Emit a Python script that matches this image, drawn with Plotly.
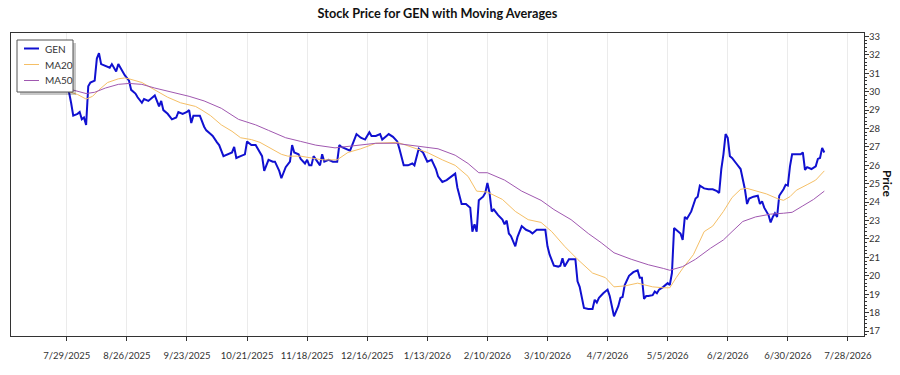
import plotly.graph_objects as go

# ---------------- data ----------------
gen_dates = [
    "2025-07-28", "2025-07-30", "2025-07-31",
    "2025-08-01", "2025-08-03", "2025-08-04", "2025-08-05", "2025-08-06", "2025-08-07", "2025-08-08",
    "2025-08-09", "2025-08-11", "2025-08-12", "2025-08-13", "2025-08-14", "2025-08-16", "2025-08-18",
    "2025-08-19", "2025-08-20", "2025-08-21", "2025-08-22", "2025-08-23", "2025-08-24", "2025-08-25",
    "2025-08-27", "2025-08-28", "2025-08-30", "2025-08-31",
    "2025-09-02", "2025-09-03", "2025-09-05", "2025-09-06", "2025-09-08", "2025-09-10", "2025-09-11",
    "2025-09-12", "2025-09-14", "2025-09-16", "2025-09-18", "2025-09-19", "2025-09-21", "2025-09-23",
    "2025-09-24", "2025-09-25", "2025-09-26", "2025-09-27", "2025-09-29",
    "2025-10-01", "2025-10-02", "2025-10-04", "2025-10-05", "2025-10-07", "2025-10-08", "2025-10-10",
    "2025-10-12", "2025-10-14", "2025-10-15", "2025-10-16", "2025-10-18", "2025-10-20", "2025-10-21",
    "2025-10-23", "2025-10-25", "2025-10-26", "2025-10-28", "2025-10-29", "2025-10-31",
    "2025-11-02", "2025-11-03", "2025-11-05", "2025-11-06", "2025-11-08", "2025-11-10", "2025-11-11",
    "2025-11-12", "2025-11-14", "2025-11-15", "2025-11-17", "2025-11-18", "2025-11-19", "2025-11-20",
    "2025-11-21", "2025-11-23", "2025-11-24", "2025-11-25", "2025-11-26", "2025-11-28", "2025-11-30",
    "2025-12-02", "2025-12-03", "2025-12-04", "2025-12-06", "2025-12-08", "2025-12-11", "2025-12-13",
    "2025-12-15", "2025-12-17", "2025-12-18", "2025-12-20", "2025-12-22", "2025-12-23", "2025-12-25",
    "2025-12-26", "2025-12-28", "2025-12-30", "2025-12-31",
    "2026-01-02", "2026-01-04", "2026-01-06", "2026-01-07", "2026-01-09", "2026-01-11", "2026-01-13",
    "2026-01-15", "2026-01-17", "2026-01-18", "2026-01-20", "2026-01-22", "2026-01-24", "2026-01-26",
    "2026-01-27", "2026-01-29", "2026-01-31",
    "2026-02-02", "2026-02-03", "2026-02-04", "2026-02-05", "2026-02-06", "2026-02-08", "2026-02-09",
    "2026-02-10", "2026-02-11", "2026-02-12", "2026-02-13", "2026-02-15", "2026-02-17", "2026-02-18",
    "2026-02-19", "2026-02-20", "2026-02-21", "2026-02-23", "2026-02-24", "2026-02-26", "2026-02-28",
    "2026-03-02", "2026-03-03", "2026-03-05", "2026-03-07", "2026-03-09", "2026-03-10", "2026-03-11",
    "2026-03-13", "2026-03-15", "2026-03-16", "2026-03-17", "2026-03-18", "2026-03-20", "2026-03-21",
    "2026-03-23", "2026-03-24", "2026-03-25", "2026-03-27", "2026-03-29", "2026-03-31",
    "2026-04-01", "2026-04-02", "2026-04-03", "2026-04-05", "2026-04-07", "2026-04-08", "2026-04-09",
    "2026-04-10", "2026-04-12", "2026-04-13", "2026-04-14", "2026-04-15", "2026-04-17", "2026-04-19",
    "2026-04-21", "2026-04-22", "2026-04-23", "2026-04-24", "2026-04-25", "2026-04-26", "2026-04-28",
    "2026-04-29", "2026-04-30",
    "2026-05-01", "2026-05-03", "2026-05-05", "2026-05-06", "2026-05-07", "2026-05-08", "2026-05-10",
    "2026-05-11", "2026-05-12", "2026-05-13", "2026-05-14", "2026-05-16", "2026-05-18", "2026-05-19",
    "2026-05-20", "2026-05-22", "2026-05-24", "2026-05-26", "2026-05-28", "2026-05-29", "2026-05-30",
    "2026-05-31",
    "2026-06-01", "2026-06-02", "2026-06-03", "2026-06-04", "2026-06-06", "2026-06-08", "2026-06-10",
    "2026-06-11", "2026-06-12", "2026-06-14", "2026-06-16", "2026-06-17", "2026-06-18", "2026-06-19",
    "2026-06-21", "2026-06-22", "2026-06-23", "2026-06-24", "2026-06-25", "2026-06-26", "2026-06-28",
    "2026-06-29", "2026-06-30",
    "2026-07-01", "2026-07-02", "2026-07-05", "2026-07-06", "2026-07-07", "2026-07-08", "2026-07-09",
    "2026-07-11", "2026-07-13", "2026-07-14", "2026-07-15", "2026-07-16", "2026-07-17",
]
gen_values = [
    30.3, 30.0, 29.4,
    28.7, 28.8, 28.9, 28.5, 28.6, 28.2, 30.3, 30.5, 30.6, 31.8, 32.1, 31.5, 31.4, 31.3,
    31.5, 31.3, 31.1, 31.5, 31.3, 31.1, 30.9, 30.6, 30.1, 29.9, 29.7,
    29.4, 29.6, 29.5, 29.6, 29.8, 29.2, 29.5, 29.0, 28.8, 28.5, 28.6, 28.9, 28.8, 28.9,
    29.0, 28.3, 28.7, 28.7, 28.7,
    28.1, 27.9, 27.7, 27.6, 27.25, 27.1, 26.5, 26.6, 26.7, 27.0, 26.4, 26.5, 26.6, 27.3,
    27.1, 27.1, 26.9, 26.5, 25.7, 26.3,
    26.2, 26.2, 25.7, 25.3, 25.9, 26.2, 27.1, 26.7, 26.6, 26.35, 26.1, 26.3, 26.0, 26.0,
    26.5, 26.2, 26.0, 26.6, 26.2, 26.3, 26.2,
    26.2, 27.1, 27.0, 26.9, 26.8, 27.7, 27.5, 27.4, 27.8, 27.6, 27.6, 27.7, 27.4, 27.6,
    27.7, 27.55, 27.3, 26.9,
    26.0, 26.0, 26.1, 26.0, 26.9, 26.7, 26.2, 26.3, 25.8, 25.4, 25.1, 25.2, 25.4, 25.55,
    24.8, 23.9, 23.9,
    23.7, 22.4, 22.8, 22.4, 24.1, 24.3, 24.5, 25.05, 24.5, 23.5, 23.6, 23.3, 23.05, 22.8,
    23.0, 22.3, 22.15, 21.6, 22.1, 22.7, 22.5,
    22.4, 22.3, 22.5, 22.5, 22.5, 21.6, 21.15, 20.55, 20.5, 20.55, 20.95, 20.5, 20.9, 20.9,
    20.9, 19.7, 19.4, 18.25, 18.2, 18.2,
    18.7, 18.55, 18.8, 19.05, 19.25, 18.9, 18.35, 17.8, 18.35, 18.8, 18.85, 19.5, 20.0, 20.2,
    20.3, 19.9, 19.9, 18.75, 18.9, 18.9, 18.95, 19.15, 19.05,
    19.25, 19.4, 19.6, 19.5, 20.15, 22.6, 22.4, 22.3, 21.95, 23.2, 23.1, 23.5, 24.2, 24.3,
    24.9, 24.75, 24.7, 24.7, 24.6, 24.5, 25.8, 26.6,
    27.7, 27.5, 26.5, 26.4, 26.1, 25.8, 24.7, 23.9, 24.2, 24.3, 24.35, 23.9, 24.05, 23.7,
    23.3, 22.9, 23.2, 23.4, 23.2, 24.35, 24.7, 24.95, 24.9,
    25.95, 26.6, 26.6, 26.6, 26.7, 25.75, 25.9, 25.8, 25.95, 26.35, 26.4, 26.95, 26.7,
]

ma20_dates = [
    "2025-07-28", "2025-07-30", "2025-08-03", "2025-08-07", "2025-08-10", "2025-08-13",
    "2025-08-17", "2025-08-22", "2025-08-25", "2025-08-27", "2025-09-02", "2025-09-08", "2025-09-14",
    "2025-09-20", "2025-09-27", "2025-09-30", "2025-10-04", "2025-10-09", "2025-10-14", "2025-10-18",
    "2025-10-23", "2025-10-27", "2025-10-31", "2025-11-06", "2025-11-09", "2025-11-15", "2025-11-25",
    "2025-12-02", "2025-12-07", "2025-12-13", "2025-12-20", "2025-12-26", "2025-12-30", "2026-01-03",
    "2026-01-07", "2026-01-13", "2026-01-20", "2026-01-26", "2026-02-01", "2026-02-05", "2026-02-10",
    "2026-02-17", "2026-02-23", "2026-03-01", "2026-03-07", "2026-03-12", "2026-03-18", "2026-03-24",
    "2026-03-31", "2026-04-06", "2026-04-10", "2026-04-15", "2026-04-21", "2026-04-28", "2026-05-03",
    "2026-05-06", "2026-05-09", "2026-05-12", "2026-05-17", "2026-05-22", "2026-05-26", "2026-05-31",
    "2026-06-04", "2026-06-08", "2026-06-11", "2026-06-15", "2026-06-20", "2026-06-25", "2026-06-28",
    "2026-07-01", "2026-07-04", "2026-07-09", "2026-07-13", "2026-07-17",
]
ma20_values = [
    30.1, 30.0, 29.85, 29.6, 29.75, 30.1,
    30.5, 30.7, 30.75, 30.7, 30.5, 30.1, 29.7,
    29.4, 29.2, 29.0, 28.7, 28.2, 27.85, 27.5,
    27.4, 27.25, 27.0, 26.6, 26.5, 26.5, 26.3,
    26.3, 26.7, 26.9, 27.2, 27.25, 27.25, 27.1,
    26.95, 26.7, 26.3, 26.0, 25.4, 24.6, 24.55,
    24.15, 23.5, 23.05, 22.9, 22.4, 21.6, 20.9,
    20.15, 19.9, 19.4, 19.45, 19.6, 19.4, 19.35,
    19.35, 19.9, 20.4, 21.15, 22.4, 22.7, 23.5,
    24.25, 24.7, 24.75, 24.6, 24.45, 24.2, 24.1,
    24.3, 24.65, 24.95, 25.2, 25.7,
]

ma50_dates = [
    "2025-07-28", "2025-07-30", "2025-08-07", "2025-08-11", "2025-08-16", "2025-08-22",
    "2025-08-27", "2025-09-02", "2025-09-08", "2025-09-16", "2025-09-24", "2025-10-01", "2025-10-09",
    "2025-10-17", "2025-10-25", "2025-10-31", "2025-11-08", "2025-11-15", "2025-11-22", "2025-12-01",
    "2025-12-10", "2025-12-20", "2025-12-29", "2026-01-04", "2026-01-10", "2026-01-18", "2026-01-26",
    "2026-02-01", "2026-02-06", "2026-02-10", "2026-02-18", "2026-02-26", "2026-03-07", "2026-03-13",
    "2026-03-21", "2026-03-29", "2026-04-04", "2026-04-10", "2026-04-18", "2026-04-26", "2026-05-03",
    "2026-05-06", "2026-05-12", "2026-05-18", "2026-05-25", "2026-05-31", "2026-06-04", "2026-06-09",
    "2026-06-15", "2026-06-22", "2026-06-28", "2026-07-02", "2026-07-07", "2026-07-12", "2026-07-17",
]
ma50_values = [
    30.2, 30.15, 29.9, 29.97, 30.2, 30.4,
    30.45, 30.4, 30.2, 29.97, 29.75, 29.5, 29.1,
    28.5, 28.2, 27.9, 27.5, 27.3, 27.1, 26.95,
    27.05, 27.2, 27.2, 27.1, 27.0, 26.9, 26.55,
    26.1, 25.6, 25.6, 25.2, 24.6, 24.1, 23.6,
    23.05, 22.3, 21.8, 21.25, 20.9, 20.6, 20.4,
    20.3, 20.5, 20.9, 21.5, 21.95, 22.4, 22.95,
    23.2, 23.35, 23.4, 23.45, 23.8, 24.15, 24.6,
]

x_ticks = ["2025-07-29", "2025-08-26", "2025-09-23", "2025-10-21", "2025-11-18", "2025-12-16",
           "2026-01-13", "2026-02-10", "2026-03-10", "2026-04-07", "2026-05-05", "2026-06-02",
           "2026-06-30", "2026-07-28"]
x_tick_labels = ["7/29/2025", "8/26/2025", "9/23/2025", "10/21/2025", "11/18/2025", "12/16/2025",
                 "1/13/2026", "2/10/2026", "3/10/2026", "4/7/2026", "5/5/2026", "6/2/2026",
                 "6/30/2026", "7/28/2026"]

series_names = ["GEN", "MA20", "MA50"]
series_colors = ["#1010d0", "#f5bf66", "#a058b0"]
series_widths = [2, 1, 1]

FONT = "Lato"
W, H = 900, 375
ML, MR, MT, MB = 11, 36, 33, 39
PW, PH = W - ML - MR, H - MT - MB


def px(x):
    return (x - ML) / PW


def py(y):
    return (H - MB - y) / PH


fig = go.Figure()
for xs, ys, nm, col, wd in zip([gen_dates, ma20_dates, ma50_dates],
                               [gen_values, ma20_values, ma50_values],
                               series_names, series_colors, series_widths):
    fig.add_trace(go.Scatter(x=xs, y=ys, mode="lines", name=nm,
                             line=dict(color=col, width=wd), showlegend=False))

fig.update_layout(
    width=W, height=H,
    margin=dict(l=ML, r=MR, t=MT, b=MB),
    plot_bgcolor="white", paper_bgcolor="white",
    font=dict(family=FONT, size=10, color="#333"),
    title=dict(text="<b>Stock Price for GEN with Moving Averages</b>", x=0.5, xref="paper",
               xanchor="center", y=1 - 14 / H, yref="container", yanchor="middle",
               font=dict(family=FONT, size=12.7, color="#111")),
    showlegend=False,
)
fig.update_xaxes(
    type="date", range=["2025-07-03", "2026-08-04 12:00"],
    tickmode="array", tickvals=x_ticks, ticktext=x_tick_labels,
    showgrid=True, gridcolor="#ebebeb", gridwidth=1,
    showline=True, linecolor="#333", linewidth=1, mirror=True,
    ticks="outside", ticklen=4, tickcolor="#333",
    tickfont=dict(family=FONT, size=9.5, color="#333"), ticklabelstandoff=7,
    zeroline=False,
)
fig.update_yaxes(
    side="right", range=[16.73, 33.19], tick0=17, dtick=1,
    showgrid=False, showline=True, linecolor="#333", linewidth=1, mirror=True,
    ticks="outside", ticklen=4, tickcolor="#333",
    minor=dict(dtick=0.2, ticks="outside", ticklen=2, tickcolor="#333", showgrid=False),
    tickfont=dict(family=FONT, size=9.5, color="#333"), ticklabelstandoff=-2,
    zeroline=False,
)
fig.add_annotation(text="<b>Price</b>", xref="paper", yref="paper", x=px(888), y=py(184),
                   xanchor="center", yanchor="middle", textangle=90, showarrow=False,
                   font=dict(family=FONT, size=12, color="#111"))

# ---- legend box (drawn as layout decoration) ----
lx0, lx1, ly0, ly1 = 17, 73, 40, 92
fig.add_shape(type="rect", xref="paper", yref="paper", layer="above",
              x0=px(lx0 + 3), x1=px(lx1 + 3), y0=py(ly1 + 3), y1=py(ly0 + 3),
              fillcolor="rgba(0,0,0,0.22)", line=dict(width=0))
fig.add_shape(type="rect", xref="paper", yref="paper", layer="above",
              x0=px(lx0), x1=px(lx1), y0=py(ly1), y1=py(ly0),
              fillcolor="white", line=dict(color="#555", width=1))
for i, (nm, col, wd) in enumerate(zip(series_names, series_colors, series_widths)):
    yy = 48.5 + 16 * i
    fig.add_shape(type="line", xref="paper", yref="paper", layer="above",
                  x0=px(24), x1=px(39), y0=py(yy), y1=py(yy),
                  line=dict(color=col, width=wd))
    fig.add_annotation(text=nm, xref="paper", yref="paper", x=px(43), y=py(yy),
                       xanchor="left", yanchor="middle", showarrow=False,
                       font=dict(family=FONT, size=10, color="#333"))

fig.write_html("out.html")
